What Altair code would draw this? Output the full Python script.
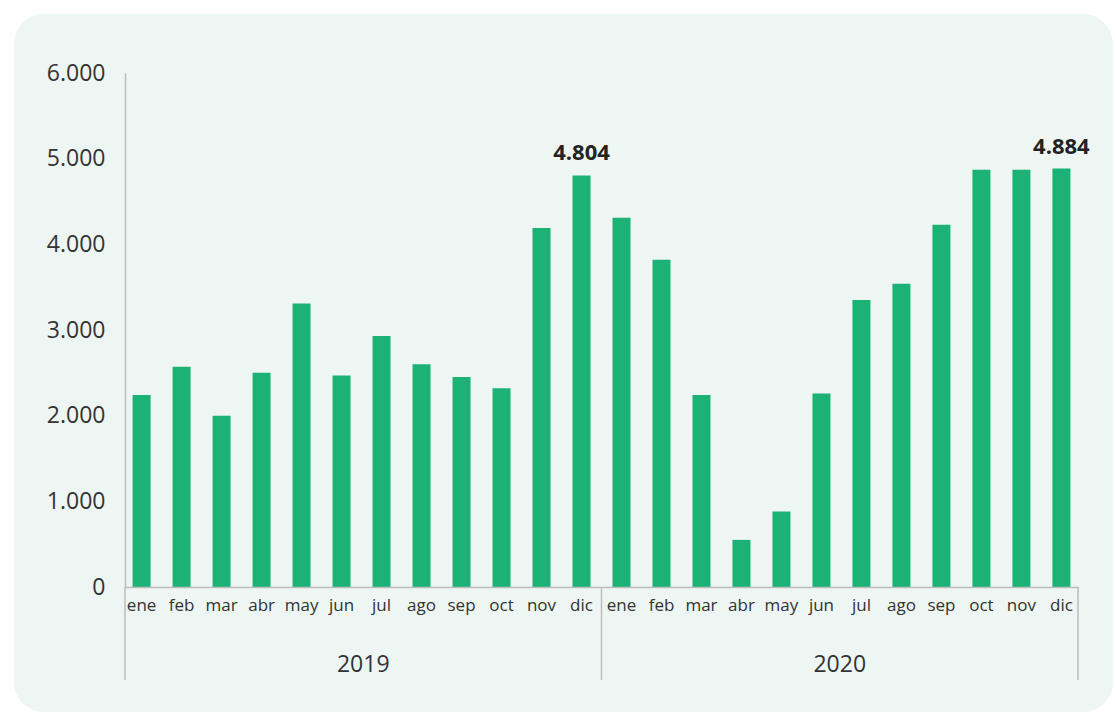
import altair as alt
import pandas as pd

years = ["2019", "2020"]
months = ["ene", "feb", "mar", "abr", "may", "jun", "jul", "ago", "sep", "oct", "nov", "dic"]
values_2019 = [2240, 2570, 2000, 2500, 3310, 2470, 2930, 2600, 2450, 2320, 4190, 4804]
values_2020 = [4310, 3820, 2240, 550, 880, 2260, 3350, 3540, 4230, 4870, 4870, 4884]
y_ticks = [0, 1000, 2000, 3000, 4000, 5000, 6000]

rows = []
for yr, vals in zip(years, [values_2019, values_2020]):
    for m, v in zip(months, vals):
        rows.append({"year": yr, "month": m, "key": f"{yr}|{m}", "value": v})
df = pd.DataFrame(rows)
order = list(df["key"])
years_df = pd.DataFrame({"year": years})

W, H = 953, 514
GREEN = "#1DB275"
TEXT = "#333333"
AXIS = "#BDBDBD"
FONT = "Open Sans"

bg = alt.Chart(pd.DataFrame({"a": [0]})).mark_rect(
    color="#EDF6F2", cornerRadius=30
).encode(
    x=alt.value(-111), x2=alt.value(988), y=alt.value(-59), y2=alt.value(639)
)

xenc = alt.X(
    "key:N", sort=order, title=None,
    scale=alt.Scale(paddingInner=0.55, paddingOuter=0.19),
    axis=alt.Axis(
        labelExpr="split(datum.value, '|')[1]", labelAngle=0, ticks=False,
        domainColor=AXIS, domainWidth=1.5, labelFont=FONT, labelFontSize=17,
        labelColor=TEXT, labelPadding=10, zindex=1,
    ),
)
yenc = alt.Y(
    "value:Q", title=None,
    scale=alt.Scale(domain=[0, 6000], nice=False),
    axis=alt.Axis(
        values=y_ticks, grid=False, ticks=False, domainColor=AXIS, domainWidth=1.5,
        labelExpr="replace(format(datum.value, ','), ',', '.')",
        labelFont=FONT, labelFontSize=23, labelColor=TEXT, labelPadding=20, zindex=1,
    ),
)

bars = alt.Chart(df).mark_bar(color=GREEN).encode(x=xenc, y=yenc)
labels = alt.Chart(df).transform_filter(
    "datum.month == 'dic'"
).transform_calculate(
    lbl="replace(format(datum.value, ','), ',', '.')"
).mark_text(
    font=FONT, fontSize=22, fontWeight="bold", color="#222222", baseline="bottom", dy=-10
).encode(x=xenc, y=yenc, text="lbl:N")

main = alt.layer(bars, labels)

yscale = alt.Scale(paddingInner=0, paddingOuter=0)
year_text = alt.Chart(years_df).mark_text(
    font=FONT, fontSize=23, color=TEXT, baseline="middle"
).encode(
    x=alt.X("year:N", scale=yscale, axis=None),
    y=alt.value(592),
    text="year:N",
)
rule_start = alt.Chart(years_df).mark_rule(color=AXIS, strokeWidth=1.5).encode(
    x=alt.X("year:N", scale=yscale, axis=None, bandPosition=0),
    y=alt.value(514), y2=alt.value(607),
)
rule_end = alt.Chart(years_df).transform_filter(
    "datum.year == '2020'"
).mark_rule(color=AXIS, strokeWidth=1.5).encode(
    x=alt.X("year:N", scale=yscale, axis=None, bandPosition=1),
    y=alt.value(514), y2=alt.value(607),
)
yearlayer = alt.layer(year_text, rule_start, rule_end)

chart = alt.layer(bg, main, yearlayer).resolve_scale(x="independent").properties(
    width=W, height=H,
    padding={"left": 14, "top": 14, "right": 0, "bottom": 0},
    background="white",
).configure_view(stroke=None)

chart.save("out.html", embed_options={"renderer": "svg", "actions": False})
